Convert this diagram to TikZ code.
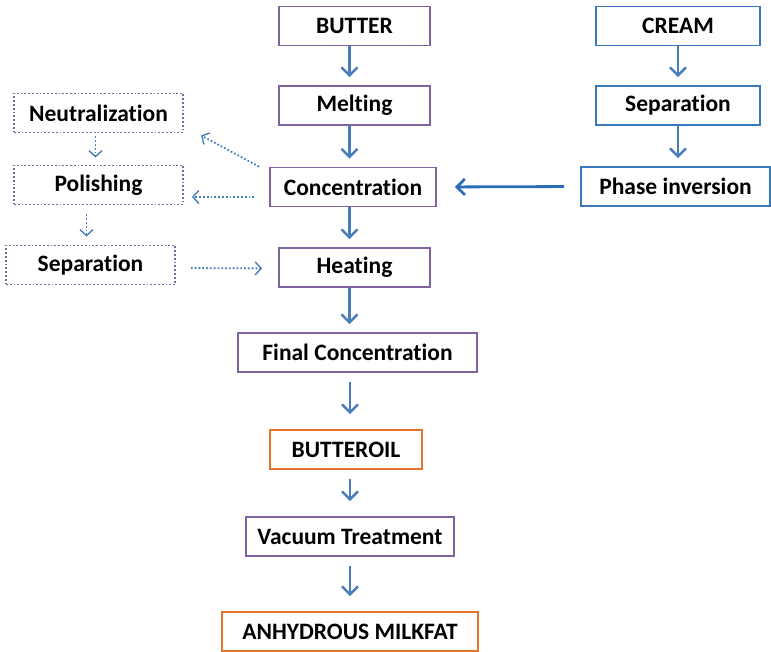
\documentclass[tikz,border=0pt]{standalone}
\usepackage{fontspec}
\setmainfont[Ligatures=NoCommon]{Carlito}
\usepackage{tikz}
\usetikzlibrary{arrows.meta}
\definecolor{boxpurple}{HTML}{8064A2}
\definecolor{boxblue}{HTML}{3A78BE}
\definecolor{boxorange}{HTML}{E8742A}
\definecolor{flow}{HTML}{4A7EBB}
\definecolor{flowdark}{HTML}{2A6CB8}
\tikzset{
  stage/.style={draw=boxpurple, line width=1.8pt, minimum height=39pt, inner sep=0pt},
  creamstage/.style={stage, draw=boxblue},
  product/.style={stage, draw=boxorange},
  side/.style={stage, dotted, line width=1.8pt},
  flowarrow/.style={draw=flow, line width=2.5pt, -{Straight Barb[length=8pt,width=16pt,line width=2.5pt]}},
  mainarrow/.style={draw=flowdark, line width=2.8pt, -{Straight Barb[length=8pt,width=16pt,line width=2.8pt]}},
  dotarrow/.style={draw=flow, dotted, line width=1.8pt, -{Straight Barb[length=6pt,width=13pt,line width=1.4pt]}}
}
\begin{document}
\begin{tikzpicture}[x=1pt, y=-1pt, line cap=butt, every node/.style={font=\fontsize{23.5}{26}\selectfont\bfseries}]
  \useasboundingbox (0,0) rectangle (771,652);
  % butter line
  \node[stage, minimum width=151pt] (butter) at (354.5,26) {BUTTER};
  \node[stage, minimum width=151pt] (melting) at (354.5,105.5) {Melting};
  \node[stage, minimum width=166pt] (conc) at (353,187) {Concentration};
  \node[stage, minimum width=151pt] (heating) at (354.5,267.5) {Heating};
  \node[stage, minimum width=239pt] (finalconc) at (357.5,352.5) {Final Concentration};
  \node[product, minimum width=152pt] (butteroil) at (346,449.5) {BUTTEROIL};
  \node[stage, minimum width=208pt] (vacuum) at (350,536.5) {Vacuum Treatment};
  \node[product, minimum width=256pt] (amf) at (350,631.5) {ANHYDROUS MILKFAT};
  % cream line
  \node[creamstage, minimum width=164pt] (cream) at (678,26) {CREAM};
  \node[creamstage, minimum width=164pt] (sepR) at (678,105.5) {Separation};
  \node[creamstage, minimum width=189pt] (phase) at (675.5,186.5) {Phase inversion};
  % washing steps
  \node[side, minimum width=169pt] (neutr) at (98.5,113) {Neutralization};
  \node[side, minimum width=169pt] (polish) at (98.5,185) {Polishing};
  \node[side, minimum width=169pt] (sepL) at (90.5,265) {Separation};

  \foreach \a/\b in {butter/melting, melting/conc, conc/heating, heating/finalconc}
    \draw[flowarrow, shorten >=8pt] ([xshift=-5pt]butter.south |- \a.south) -- ([xshift=-5pt]butter.south |- \b.north);
  \foreach \a/\b in {cream/sepR, sepR/phase}
    \draw[flowarrow, shorten >=8pt] (\a.south) -- (\a.south |- \b.north);
  \foreach \a/\b in {finalconc/butteroil, butteroil/vacuum, vacuum/amf}
    \draw[flowarrow, shorten <=9pt, shorten >=15pt] (\a.south -| vacuum.south) -- (\b.north -| vacuum.north);
  \draw[mainarrow, shorten <=16pt, shorten >=18pt] (phase.west) -- (conc.east);

  % side loop
  \draw[dotarrow] ([xshift=-10pt]conc.north west) -- ([xshift=17pt,yshift=-2pt]neutr.south east);
  \draw[dotarrow] ([xshift=-15pt,yshift=-10pt]conc.west) -- ([xshift=8pt,yshift=-12pt]polish.east);
  \draw[dotarrow, shorten <=15pt, shorten >=16pt] ([yshift=-3pt]sepL.east) -- ([yshift=-1pt]heating.west);
  \draw[dotarrow, shorten <=3pt, shorten >=7pt] ([xshift=-3pt]neutr.south) -- ([xshift=-3pt]polish.north);
  \draw[dotarrow, shorten <=9pt, shorten >=8pt] ([xshift=-12pt]polish.south) -- ([xshift=-12pt]polish.south |- sepL.north);
\end{tikzpicture}
\end{document}
